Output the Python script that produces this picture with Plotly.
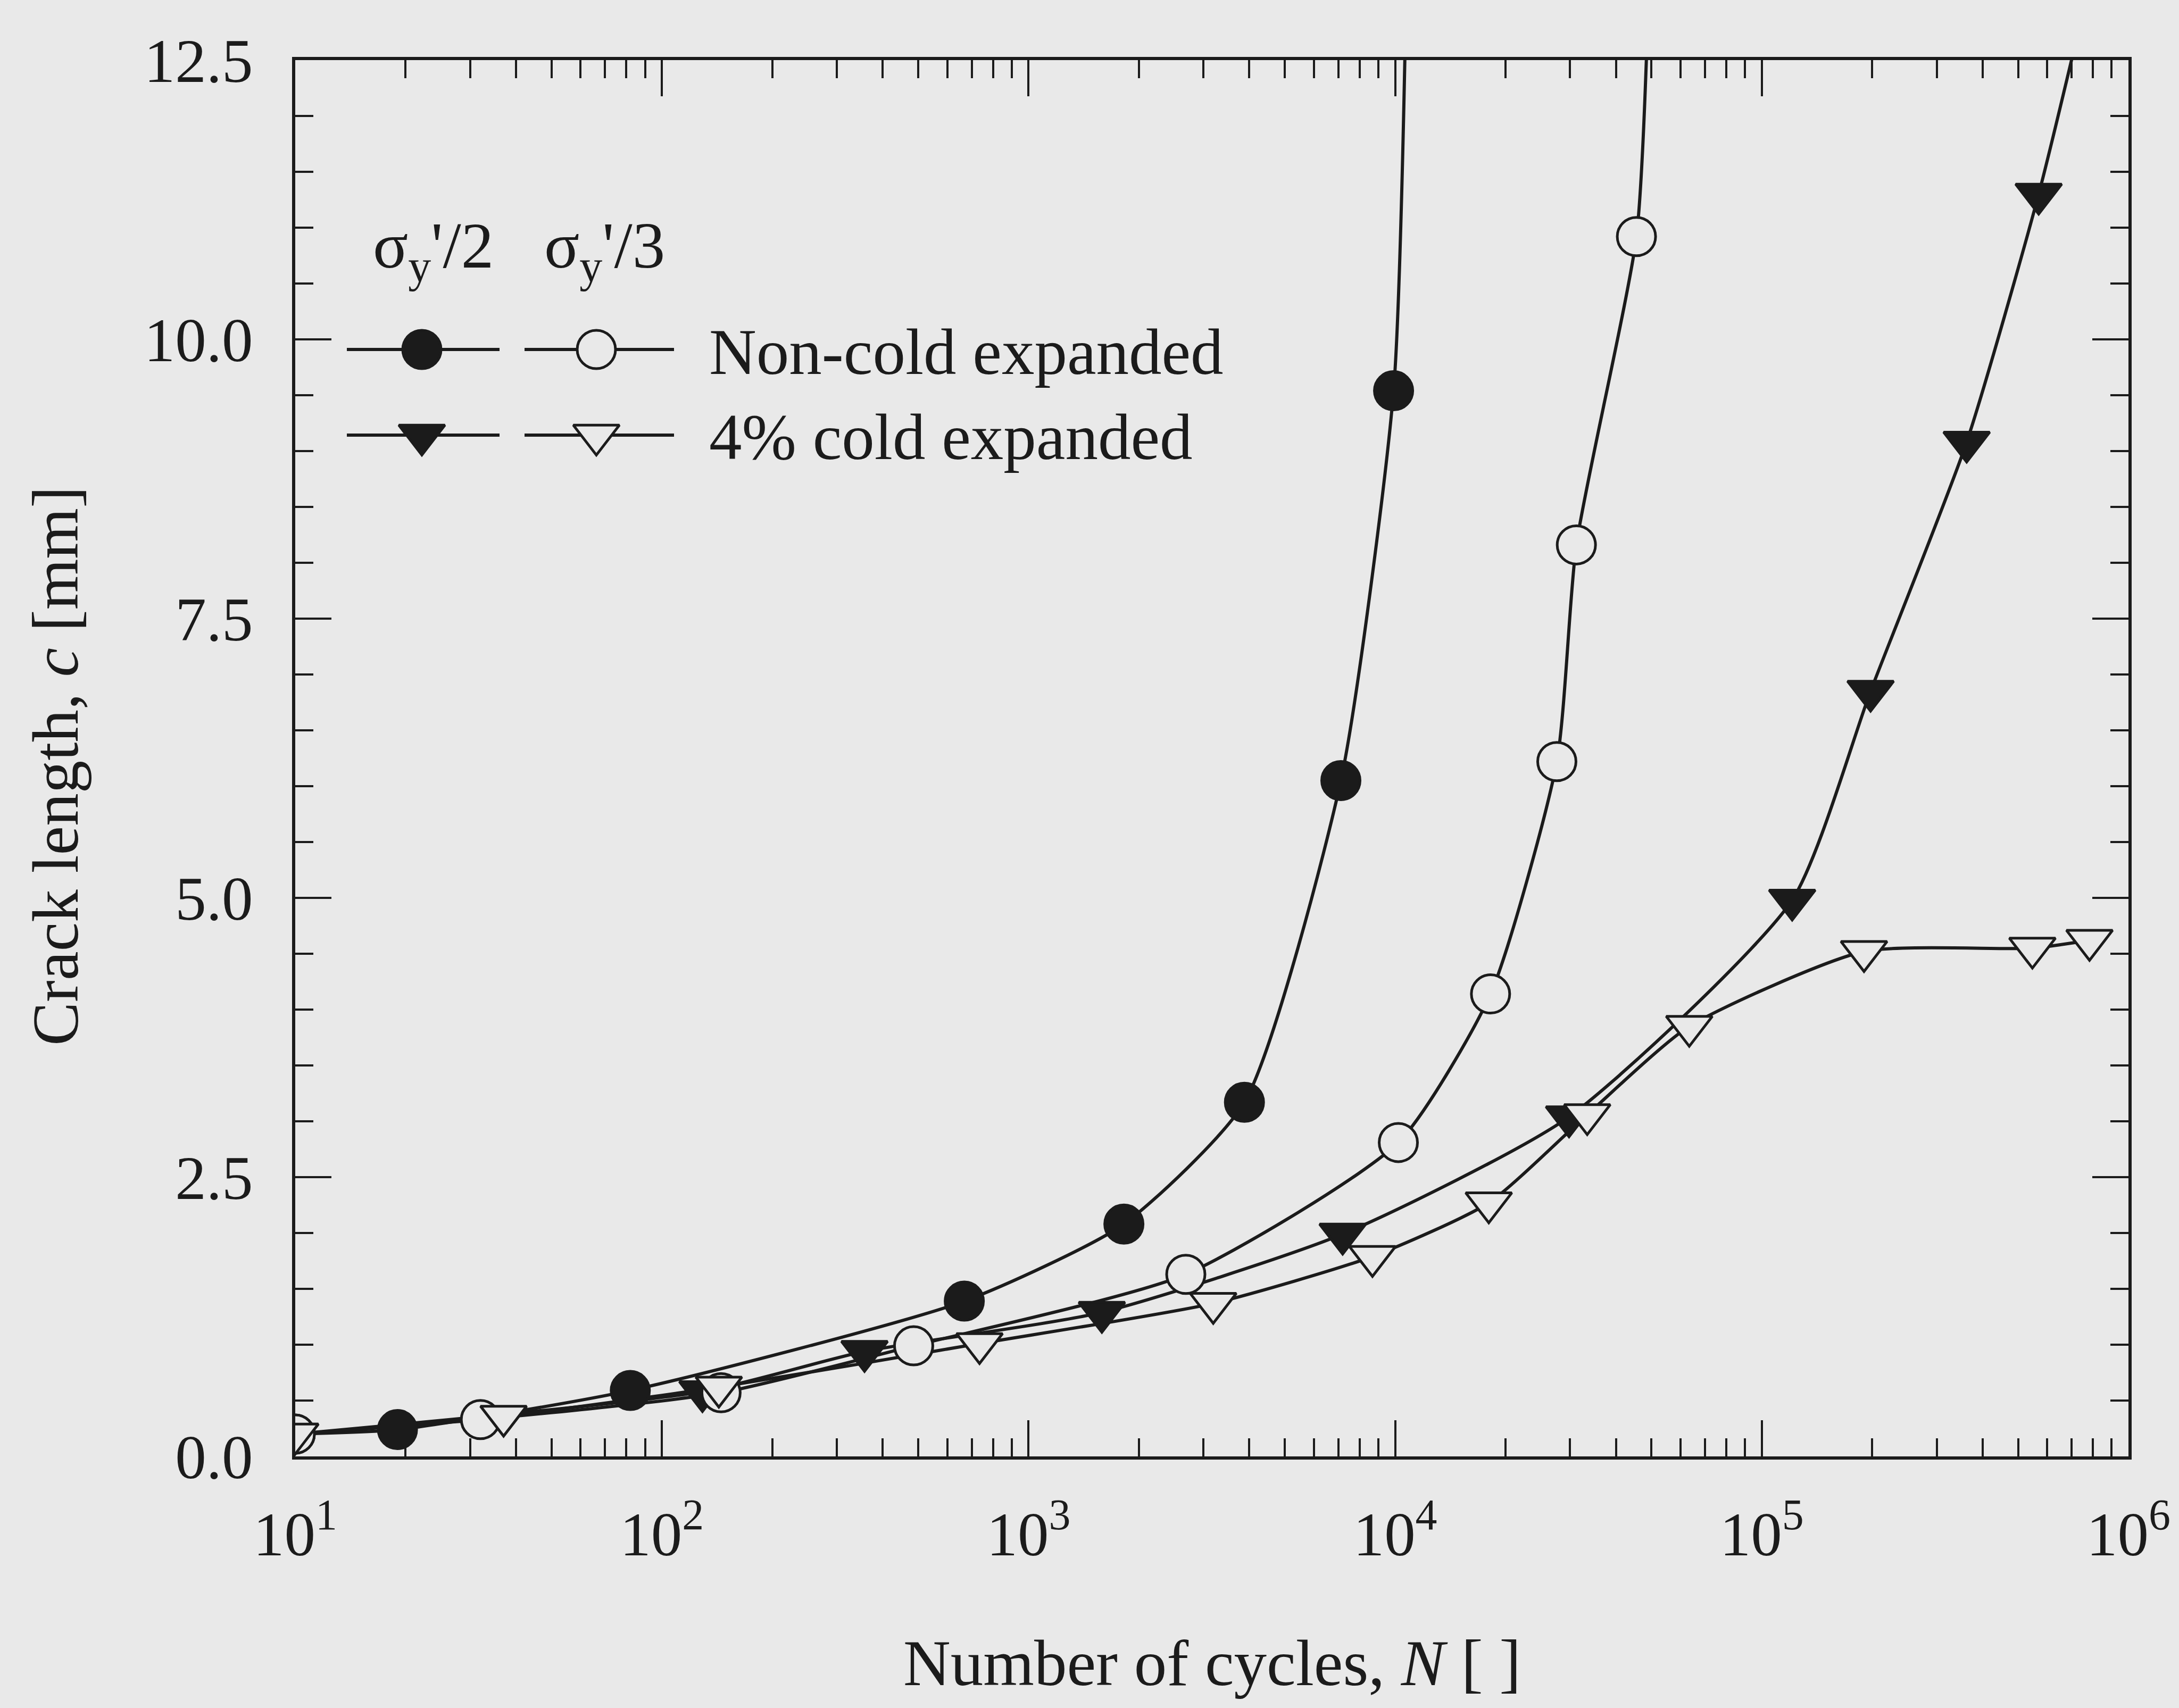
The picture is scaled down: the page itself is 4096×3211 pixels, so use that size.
import plotly.graph_objects as go

# ---------------- data ----------------
# sigma_y'/2, non-cold expanded (filled circles)
N_nc2 = [10, 19, 82, 668, 1820, 3880, 7110, 9900]
c_nc2 = [0.20, 0.24, 0.59, 1.39, 2.08, 3.17, 6.05, 9.54]
N_nc2_end, c_nc2_end = 10700, 13.0

# sigma_y'/3, non-cold expanded (open circles)
N_nc3 = [10, 32, 145, 486, 2685, 10200, 18200, 27600, 31200, 45500]
c_nc3 = [0.20, 0.33, 0.57, 0.99, 1.63, 2.81, 4.14, 6.22, 8.16, 10.92]
N_nc3_end, c_nc3_end = 49000, 13.0

# sigma_y'/2, 4% cold expanded (filled triangles)
N_ce2 = [10, 129, 357, 1585, 7190, 29800, 121000, 198000, 362000, 569000]
c_ce2 = [0.20, 0.58, 0.94, 1.29, 1.99, 3.04, 4.98, 6.85, 9.08, 11.3]
N_ce2_end, c_ce2_end = 760000, 13.0

# sigma_y'/3, 4% cold expanded (open triangles)
N_ce3 = [10, 37, 143, 735, 3190, 8670, 18000, 33400, 63400, 190000, 547000, 783000]
c_ce3 = [0.20, 0.36, 0.62, 1.01, 1.37, 1.79, 2.27, 3.06, 3.85, 4.52, 4.55, 4.62]

x_tickvals = [10, 100, 1000, 10000, 100000, 1000000]
x_ticktext = ["10<sup>1</sup>", "10<sup>2</sup>", "10<sup>3</sup>",
              "10<sup>4</sup>", "10<sup>5</sup>", "10<sup>6</sup>"]

legend_headers = ["σ<sub>y</sub>'/2", "σ<sub>y</sub>'/3"]
legend_labels = ["Non-cold expanded", "4% cold expanded"]

# ---------------- style / layout ----------------
W, H = 4096, 3211
L, R, T, B = 555, 4001, 113, 2738
INK = "#1b1b1b"
BG = "#e9e9e9"
FONT = "Liberation Serif"
LW = 6
MLW = 5
MS_C = 72
MS_T = 75


def px2paper(px, py):
    return (px - L) / (R - L), (B - py) / (B - T)


fig = go.Figure()

# fitted curves
for xs, ys, xe, ye in [(N_nc2, c_nc2, N_nc2_end, c_nc2_end),
                       (N_nc3, c_nc3, N_nc3_end, c_nc3_end),
                       (N_ce2, c_ce2, N_ce2_end, c_ce2_end),
                       (N_ce3, c_ce3, None, None)]:
    xx = list(xs) + ([xe] if xe is not None else [])
    yy = list(ys) + ([ye] if ye is not None else [])
    fig.add_trace(go.Scatter(x=xx, y=yy, mode="lines",
                             line=dict(color=INK, width=LW, shape="spline", smoothing=0.6),
                             showlegend=False, hoverinfo="skip"))

# markers
marker_defs = [
    (N_nc2, c_nc2, "circle", INK, MS_C),
    (N_ce2, c_ce2, "triangle-down", INK, MS_T),
    (N_nc3, c_nc3, "circle", BG, MS_C),
    (N_ce3, c_ce3, "triangle-down", BG, MS_T),
]
for xs, ys, sym, fill, ms in marker_defs:
    fig.add_trace(go.Scatter(x=xs, y=ys, mode="markers",
                             marker=dict(symbol=sym, size=ms, color=fill,
                                         line=dict(color=INK, width=MLW)),
                             showlegend=False))

# custom legend samples on a pixel-space overlay axis
row_y = [657, 818]
col_line = [(652, 939), (986, 1267)]
col_mark = [793, 1121]
row_syms = ["circle", "triangle-down"]
col_fill = [INK, BG]
for r, sym in enumerate(row_syms):
    for c in range(2):
        fig.add_trace(go.Scatter(x=[col_line[c][0], col_line[c][1]], y=[row_y[r], row_y[r]],
                                 mode="lines", line=dict(color=INK, width=LW),
                                 xaxis="x2", yaxis="y2", showlegend=False, hoverinfo="skip"))
        fig.add_trace(go.Scatter(x=[col_mark[c]], y=[row_y[r]], mode="markers",
                                 marker=dict(symbol=sym, size=MS_C if sym == "circle" else MS_T,
                                             color=col_fill[c], line=dict(color=INK, width=MLW)),
                                 xaxis="x2", yaxis="y2", showlegend=False, hoverinfo="skip"))

annotations = []
for txt, xl in zip(legend_headers, [699, 1021]):
    ax_, ay_ = px2paper(xl, 470)
    annotations.append(dict(text=txt, x=ax_, y=ay_, xref="paper", yref="paper",
                            xanchor="left", yanchor="middle", showarrow=False,
                            font=dict(family=FONT, size=123, color=INK)))
for txt, ry in zip(legend_labels, row_y):
    ax_, ay_ = px2paper(1331, ry + 4)
    annotations.append(dict(text=txt, x=ax_, y=ay_, xref="paper", yref="paper",
                            xanchor="left", yanchor="middle", showarrow=False,
                            font=dict(family=FONT, size=123, color=INK)))

# axis titles
tx, ty = px2paper(2278, 3126)
annotations.append(dict(text="Number of cycles, <i>N</i> [ ]", x=tx, y=ty,
                        xref="paper", yref="paper", xanchor="center", yanchor="middle",
                        showarrow=False, font=dict(family=FONT, size=123, color=INK)))
tx, ty = px2paper(104, 1440)
annotations.append(dict(text="Crack length, <i>c</i> [mm]", x=tx, y=ty, textangle=-90,
                        xref="paper", yref="paper", xanchor="center", yanchor="middle",
                        showarrow=False, font=dict(family=FONT, size=123, color=INK)))

axis_common = dict(showline=True, linecolor=INK, linewidth=LW, mirror="allticks",
                   ticks="inside", tickcolor=INK, tickwidth=4, showgrid=False,
                   zeroline=False, tickfont=dict(family=FONT, size=117, color=INK))

fig.update_layout(
    width=W, height=H,
    margin=dict(l=L, r=W - R, t=T, b=H - B, pad=0),
    paper_bgcolor=BG, plot_bgcolor=BG,
    showlegend=False,
    annotations=annotations,
    xaxis=dict(type="log", range=[1, 6], tickvals=x_tickvals, ticktext=x_ticktext,
               ticklen=68, ticklabelstandoff=40,
               minor=dict(ticks="inside", ticklen=34, tickwidth=4, tickcolor=INK,
                          dtick="D1", showgrid=False),
               **axis_common),
    yaxis=dict(range=[0, 12.5], dtick=2.5, tick0=0, tickformat=".1f",
               ticklen=68, ticklabelstandoff=50,
               minor=dict(ticks="inside", ticklen=34, tickwidth=4, tickcolor=INK,
                          dtick=0.5, showgrid=False),
               **axis_common),
    xaxis2=dict(overlaying="x", range=[L, R], visible=False, anchor="y2"),
    yaxis2=dict(overlaying="y", range=[B, T], visible=False, anchor="x2"),
)

fig.write_html("out.html")
